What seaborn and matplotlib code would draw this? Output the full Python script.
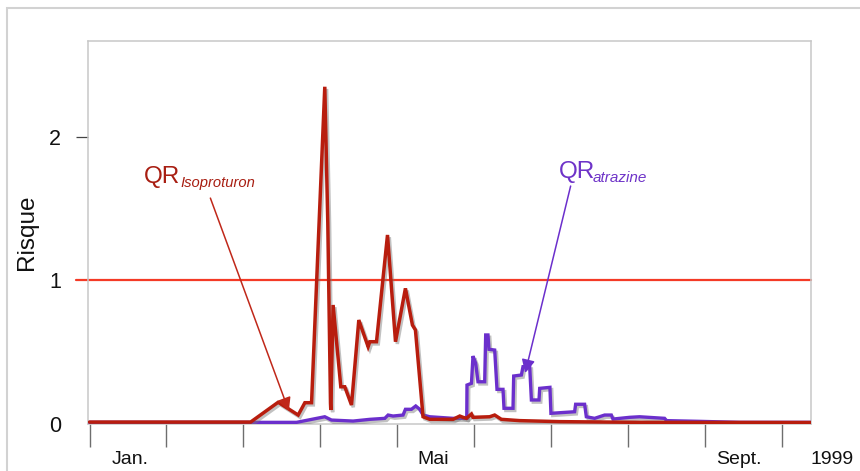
import matplotlib
matplotlib.use("Agg")
import numpy as np
import pandas as pd
import seaborn as sns
import matplotlib.pyplot as plt
import matplotlib.patheffects as pe
from matplotlib.patches import Rectangle

# ---- data (x = months since 1 Jan 1999, y = risk quotient) ----
iso_month = [0.0, 2.094, 2.452, 2.712, 2.799, 2.886, 3.058, 3.097, 3.132, 3.136,
             3.166, 3.266, 3.318, 3.405, 3.500, 3.621, 3.643, 3.730, 3.873, 3.977,
             4.106, 4.197, 4.236, 4.335, 4.422, 4.725, 4.812, 4.855, 4.899, 4.964,
             4.984, 5.201, 5.266, 5.353, 5.591, 6.110, 7.149, 9.370]
iso_risk = [0.010, 0.010, 0.148, 0.059, 0.145, 0.145, 2.347, 1.397, 0.141, 0.094,
            0.826, 0.256, 0.256, 0.129, 0.721, 0.535, 0.570, 0.570, 1.314, 0.570,
            0.942, 0.686, 0.652, 0.047, 0.029, 0.029, 0.052, 0.043, 0.036, 0.066,
            0.043, 0.047, 0.059, 0.029, 0.020, 0.013, 0.008, 0.007]

atz_month = [0.0, 2.691, 3.058, 3.145, 3.426, 3.643, 3.838, 3.881, 3.945, 4.075,
             4.106, 4.184, 4.240, 4.292, 4.335, 4.422, 4.725, 4.903, 4.906, 4.964,
             4.984, 5.019, 5.049, 5.136, 5.149, 5.179, 5.192, 5.266, 5.296, 5.374,
             5.387, 5.504, 5.513, 5.613, 5.634, 5.721, 5.743, 5.842, 5.851, 5.984,
             5.997, 6.305, 6.318, 6.435, 6.457, 6.565, 6.695, 6.782, 6.803, 7.019,
             7.149, 7.474, 7.500, 7.929, 8.448, 9.370]
atz_risk = [0.008, 0.008, 0.047, 0.024, 0.017, 0.029, 0.036, 0.059, 0.052, 0.059,
            0.099, 0.099, 0.122, 0.099, 0.059, 0.047, 0.036, 0.036, 0.268, 0.280,
            0.470, 0.420, 0.291, 0.291, 0.617, 0.617, 0.517, 0.512, 0.238, 0.238,
            0.106, 0.106, 0.331, 0.338, 0.396, 0.396, 0.164, 0.164, 0.245, 0.252,
            0.071, 0.082, 0.134, 0.134, 0.047, 0.036, 0.059, 0.059, 0.031, 0.043,
            0.047, 0.036, 0.020, 0.015, 0.008, 0.008]

tick_months = list(range(10))
label_months = [0.53, 4.47, 8.44]
label_texts = ["Jan.", "Mai", "Sept."]
year_label = "1999"
y_ticks = [0, 1, 2]
threshold = 1.0

RED = "#b81d0e"
RED_TXT = "#a81e12"
THR = "#f43a26"
PURPLE = "#6b2fcc"
PURPLE_TXT = "#6e33c8"

sns.set_theme(style="white")
plt.rcParams["font.family"] = ["Liberation Sans", "DejaVu Sans"]

W, H = 860, 471
fig = plt.figure(figsize=(W / 100, H / 100), dpi=100)
ax_l, ax_r, ax_t, ax_b = 88.3, 811.0, 40.7, 423.5
ax = fig.add_axes([ax_l / W, 1 - ax_b / H, (ax_r - ax_l) / W, (ax_b - ax_t) / H])

df_iso = pd.DataFrame({"mois": iso_month, "risque": iso_risk})
df_atz = pd.DataFrame({"mois": atz_month, "risque": atz_risk})

shadow = [pe.SimpleLineShadow(offset=(1.3, -1.6), shadow_color="#777777", alpha=0.45), pe.Normal()]

sns.lineplot(data=df_atz, x="mois", y="risque", ax=ax, color=PURPLE, lw=2.4,
             estimator=None, sort=False, zorder=3)
sns.lineplot(data=df_iso, x="mois", y="risque", ax=ax, color=RED, lw=2.5,
             estimator=None, sort=False, zorder=4)
for ln in ax.lines:
    ln.set_path_effects(shadow)
    ln.set_solid_joinstyle("miter")

ax.axhline(threshold, xmin=-0.017, xmax=1, color=THR, lw=1.6, clip_on=False, zorder=2)

ax.set_xlim(-0.0156, 9.377)
ax.set_ylim(0, 2.668)

# spines
for s in ["left", "top", "right", "bottom"]:
    ax.spines[s].set_color("#c8c8c8")
    ax.spines[s].set_linewidth(1.1)

# x ticks
ax.set_xticks(tick_months, labels=[""] * len(tick_months))
ax.set_xticks(label_months, labels=label_texts, minor=True)
ax.tick_params(axis="x", which="major", length=16.5, width=1.0, color="#6e6e6e", direction="out", bottom=True)
ax.tick_params(axis="x", which="minor", length=0, pad=20, labelsize=14, labelcolor="#111111", bottom=True)

# y ticks
ax.set_yticks(y_ticks, labels=[str(v) for v in y_ticks])
ax.tick_params(axis="y", which="major", length=8.6, width=0.9, color="#444444", pad=11,
               labelsize=15.5, labelcolor="#111111", left=True)
yt = ax.yaxis.get_major_ticks()
yt[0].tick1line.set_visible(False)
yt[1].tick1line.set_visible(False)

ax.set_xlabel("")
ax.set_ylabel("Risque", fontsize=17.5, color="#111111", labelpad=8)

fig.text(832.5 / W, 1 - 451 / H, year_label, fontsize=14, ha="center", va="top", color="#111111")

# annotations
def px(x, y):
    return (x / W, 1 - y / H)

fig.text(*px(144, 183), "QR", fontsize=17.5, color=RED_TXT, ha="left", va="baseline")
fig.text(*px(180, 187), "Isoproturon", fontsize=10.6, style="italic", color=RED_TXT, ha="left", va="baseline")
fig.text(*px(559, 177.7), "QR", fontsize=17.5, color=PURPLE_TXT, ha="left", va="baseline")
fig.text(*px(593, 181.7), "atrazine", fontsize=11, style="italic", color=PURPLE_TXT, ha="left", va="baseline")

ax.annotate("", xy=(2.591, 0.087), xytext=(1.571, 1.571), xycoords="data",
            arrowprops=dict(arrowstyle="-|>,head_length=0.5,head_width=0.25", color="#c0281a",
                            lw=1.1, mutation_scale=16, shrinkA=0, shrinkB=0), zorder=6)
ax.annotate("", xy=(5.662, 0.352), xytext=(6.253, 1.655), xycoords="data",
            arrowprops=dict(arrowstyle="-|>,head_length=0.5,head_width=0.25", color=PURPLE,
                            lw=1.1, mutation_scale=16, shrinkA=0, shrinkB=0), zorder=6)

# outer frame
fig.add_artist(Rectangle((7 / W, -0.2), 1.2, 1.2 - 8 / H, transform=fig.transFigure,
                         fill=False, edgecolor="#d2d2d2", lw=1.5))

fig.savefig("out.png", dpi=100, facecolor="white")
